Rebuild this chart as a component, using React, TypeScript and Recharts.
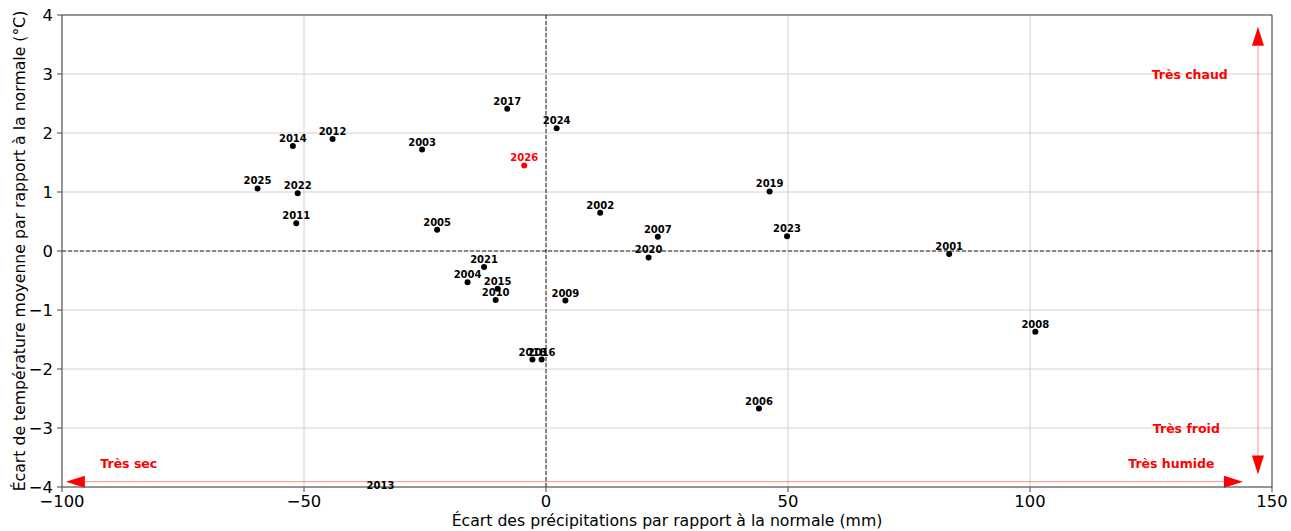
import React from 'react';
import { ScatterChart, Scatter, XAxis, YAxis, CartesianGrid, ReferenceLine, ReferenceDot } from 'recharts';

// Années et écarts (précipitations en mm, température en °C)
const years = [2001, 2002, 2003, 2004, 2005, 2006, 2007, 2008, 2009, 2010, 2011, 2012, 2013, 2014, 2015, 2016, 2017, 2018, 2019, 2020, 2021, 2022, 2023, 2024, 2025];
const precipDeviation = [83.3, 11.2, -25.6, -16.2, -22.5, 44.0, 23.1, 101.1, 4.0, -10.4, -51.6, -44.1, -34.2, -52.3, -10.0, -0.9, -8.0, -2.8, 46.2, 21.2, -12.8, -51.3, 49.8, 2.2, -59.6];
const tempDeviation = [-0.05, 0.65, 1.72, -0.53, 0.36, -2.67, 0.24, -1.37, -0.84, -0.83, 0.47, 1.90, -4.11, 1.78, -0.64, -1.84, 2.41, -1.84, 1.01, -0.11, -0.27, 0.98, 0.25, 2.08, 1.06];

// année en cours, en rouge
const currentYear = [2026];
const currentPrecip = [-4.5];
const currentTemp = [1.45];

const xTicks = [-100, -50, 0, 50, 100, 150];
const yTicks = [-4, -3, -2, -1, 0, 1, 2, 3, 4];

// textes d'annotation (position en unités du graphique)
const cornerLabels = [
    { text: 'Très chaud', x: 133, y: 3.0 },
    { text: 'Très froid', x: 132.3, y: -3.0 },
    { text: 'Très humide', x: 129.2, y: -3.6 },
    { text: 'Très sec', x: -86.2, y: -3.6 },
];

// flèches double sens
const arrows = [
    { from: { x: -99.2, y: -3.91 }, to: { x: 144.0, y: -3.91 } },
    { from: { x: 147.1, y: -3.79 }, to: { x: 147.1, y: 3.8 } },
];

const FONT = '"DejaVu Sans", sans-serif';
const RED = '#ff0000';

const pastData = years.map((year, i) => ({ year, precip: precipDeviation[i], temp: tempDeviation[i] }));
const currentData = currentYear.map((year, i) => ({ year, precip: currentPrecip[i], temp: currentTemp[i] }));

const fmt = (v: number) => (v < 0 ? `\u2212${Math.abs(v)}` : `${v}`);

const DoubleArrow = (p: any) => {
    const { x1, y1, x2, y2 } = p;
    const len = Math.hypot(x2 - x1, y2 - y1) || 1;
    const ux = (x2 - x1) / len;
    const uy = (y2 - y1) / len;
    const L = 19;
    const W = 6;
    const head = (tx: number, ty: number, dx: number, dy: number) => {
        const bx = tx + dx * L;
        const by = ty + dy * L;
        return `${tx},${ty} ${bx - dy * W},${by + dx * W} ${bx + dy * W},${by - dx * W}`;
    };
    return (
        <g>
            <line x1={x1 + ux * L} y1={y1 + uy * L} x2={x2 - ux * L} y2={y2 - uy * L} stroke={RED} strokeOpacity={0.45} strokeWidth={1} />
            <polygon points={head(x1, y1, ux, uy)} fill={RED} />
            <polygon points={head(x2, y2, -ux, -uy)} fill={RED} />
        </g>
    );
};

const dot = (color: string) => (p: any) => <circle cx={p.cx} cy={p.cy} r={3} fill={color} />;

const yearLabel = (year: number, color: string) => (p: any) => (
    <text x={p.cx} y={p.cy - 4} textAnchor="middle" fontSize={10} fontWeight="bold" fontFamily={FONT} fill={color}>
        {year}
    </text>
);

const XLabel = ({ viewBox }: any) => (
    <text x={viewBox.x + viewBox.width / 2} y={viewBox.y + 39} textAnchor="middle" fontSize={15.7} fontFamily={FONT} fill="#000">
        Écart des précipitations par rapport à la normale (mm)
    </text>
);

const YLabel = ({ viewBox }: any) => {
    const x = viewBox.x + 25;
    const y = viewBox.y + viewBox.height / 2;
    return (
        <text x={x} y={y} transform={`rotate(-90, ${x}, ${y})`} textAnchor="middle" fontSize={15.7} fontFamily={FONT} fill="#000">
            Écart de température moyenne par rapport à la normale (°C)
        </text>
    );
};

export default function App() {
    return (
        <div style={{ position: 'absolute', left: 0, top: 0, background: '#fff' }}>
            <ScatterChart width={1291} height={531} margin={{ top: 15, right: 19, left: 0, bottom: 0 }}>
                <CartesianGrid stroke="#d2d2d2" strokeWidth={1} />
                <XAxis
                    type="number"
                    dataKey="precip"
                    domain={[-100, 150]}
                    ticks={xTicks}
                    allowDataOverflow
                    height={44}
                    tickFormatter={fmt}
                    tick={{ fontSize: 16.4, fontFamily: FONT, fill: '#000' }}
                    tickSize={5}
                    tickMargin={3}
                    stroke="#444"
                    label={{ content: XLabel }}
                />
                <YAxis
                    type="number"
                    dataKey="temp"
                    domain={[-4, 4]}
                    ticks={yTicks}
                    allowDataOverflow
                    width={62}
                    tickFormatter={fmt}
                    tick={{ fontSize: 16.4, fontFamily: FONT, fill: '#000' }}
                    tickSize={5}
                    tickMargin={4}
                    stroke="#444"
                    label={{ content: YLabel }}
                />
                <ReferenceLine y={4} stroke="#444" strokeWidth={1} />
                <ReferenceLine x={150} stroke="#444" strokeWidth={1} />
                <ReferenceLine y={0} stroke="#111" strokeWidth={0.9} strokeDasharray="4 2" />
                <ReferenceLine x={0} stroke="#111" strokeWidth={0.9} strokeDasharray="4 2" />

                {arrows.map((a, i) => (
                    <ReferenceLine key={`arrow-${i}`} segment={[a.from, a.to]} shape={DoubleArrow} ifOverflow="visible" />
                ))}

                <Scatter data={pastData} fill="#000" shape={dot('#000')} isAnimationActive={false} />
                <Scatter data={currentData} fill={RED} shape={dot(RED)} isAnimationActive={false} />

                {pastData.map((d) => (
                    <ReferenceDot key={d.year} x={d.precip} y={d.temp} r={0} ifOverflow="visible" shape={yearLabel(d.year, '#000')} />
                ))}
                {currentData.map((d) => (
                    <ReferenceDot key={d.year} x={d.precip} y={d.temp} r={0} ifOverflow="visible" shape={yearLabel(d.year, RED)} />
                ))}

                {cornerLabels.map((c) => (
                    <ReferenceDot
                        key={c.text}
                        x={c.x}
                        y={c.y}
                        r={0}
                        ifOverflow="visible"
                        shape={(p: any) => (
                            <text x={p.cx} y={p.cy} textAnchor="middle" dominantBaseline="central" fontSize={12.5} fontWeight="bold" fontFamily={FONT} fill={RED}>
                                {c.text}
                            </text>
                        )}
                    />
                ))}
            </ScatterChart>
        </div>
    );
}
